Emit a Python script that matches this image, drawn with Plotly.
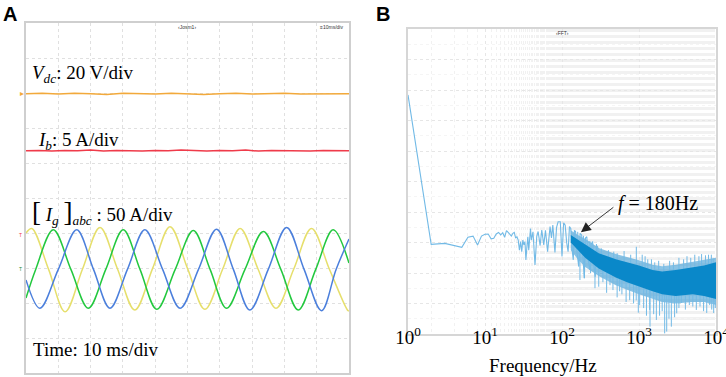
import numpy as np
import plotly.graph_objects as go

W, H = 726, 377

# ---------------- Panel A: oscilloscope (time in ms, vertical in screen divisions) ----------------
vdc_t = [0, 5, 10, 15, 20, 25, 30, 35, 40, 45, 50, 55, 60, 65, 70, 75, 80, 85, 90, 95, 100]
vdc_div = [7.98, 7.99, 7.97, 7.99, 7.98, 7.96, 7.99, 7.98, 7.97, 7.99, 7.97, 7.96, 7.98, 7.99,
           7.97, 7.98, 7.99, 7.97, 7.98, 7.99, 7.98]
ib_t = [0, 4, 8, 12, 16, 20, 24, 28, 32, 36, 40, 44, 48, 52, 56, 60, 64, 68, 72, 76, 80, 84, 88, 92, 96, 100]
ib_div = [6.35, 6.36, 6.34, 6.36, 6.35, 6.37, 6.34, 6.36, 6.35, 6.34, 6.36, 6.35, 6.37, 6.35, 6.34,
          6.36, 6.35, 6.37, 6.34, 6.36, 6.35, 6.36, 6.34, 6.36, 6.35, 6.35]

ia_t = [0, 1.8, 7.0, 12.1, 17.5, 22.9, 28.3, 33.7, 39.2, 44.6, 50.0, 55.4, 60.9, 66.3, 71.8,
        77.4, 82.9, 88.4, 94.0, 99.7, 100]
ia_div = [4.00, 4.13, 2.96, 1.75, 2.97, 4.16, 2.98, 1.80, 2.99, 4.18, 2.99, 1.82, 2.97, 4.13, 2.98,
          1.85, 2.97, 4.13, 2.95, 1.78, 1.78]

ic_t = [0, 3.0, 8.45, 13.9, 19.3, 24.7, 30.1, 35.3, 40.5, 46.2, 51.8, 57.0, 62.1, 67.8, 73.5,
        78.9, 84.3, 89.7, 95.1, 100]
ic_div = [2.14, 2.96, 4.09, 2.96, 1.85, 2.96, 4.09, 2.96, 1.82, 2.96, 4.07, 2.96, 1.85, 2.96, 4.04,
          2.96, 1.80, 2.96, 4.09, 3.14]

ib3_t = [0, 4.3, 10.0, 15.7, 20.9, 26.0, 31.4, 36.8, 42.3, 47.7, 53.4, 59.0, 64.2, 69.3, 75.0,
         80.7, 86.1, 91.5, 96.0, 100]
ib3_div = [2.66, 1.85, 2.96, 4.09, 2.96, 1.85, 2.96, 4.09, 2.96, 1.85, 2.96, 4.11, 2.96, 1.80, 2.96,
           4.16, 2.96, 1.78, 2.96, 3.83]

# ---------------- Panel B: FFT spectrum (frequency in Hz, magnitude in dB) ----------------
lf_freq = [1, 2, 3, 4, 5, 6, 7, 8, 9, 10, 11, 12, 13, 14, 15, 16, 17, 18, 19, 20, 21, 22, 23, 24,
           25, 26, 27, 28, 29, 30, 31, 32, 33, 34, 35, 36, 37, 38, 39, 40, 42, 44.6, 47, 49, 52,
           54.6, 58, 61, 65, 70, 73, 76, 81, 85, 89, 95, 100, 105, 110, 115, 120, 125, 130, 135,
           140, 145, 150, 157, 165, 172, 180, 187, 195, 202, 210, 220, 230, 240, 250, 260, 270,
           280, 290, 300]
lf_db = [-21.6, -70.6, -70.3, -71.1, -71.6, -68.3, -67.9, -70.8, -67.9, -67.3, -67.2, -68.8,
         -68.6, -67.2, -66.7, -67.5, -66.8, -68.3, -66.1, -66.7, -67.2, -67.9, -67.0, -66.7,
         -68.6, -68.1, -69.2, -72.5, -69.7, -73.0, -69.2, -70.8, -69.7, -75.7, -71.4, -68.1,
         -72.5, -67.5, -65.4, -69.2, -66.5, -77.4, -68.0, -66.4, -71.0, -65.9, -70.8, -66.0,
         -73.0, -64.8, -68.5, -64.3, -73.3, -65.0, -63.2, -63.2, -74.6, -63.5, -64.3, -70.0,
         -73.0, -64.8, -65.4, -72.0, -75.7, -66.0, -66.4, -73.5, -77.9, -67.0, -67.5, -75.0,
         -81.7, -68.5, -68.1, -76.0, -79.0, -70.5, -69.7, -78.0, -81.2, -71.0, -71.4, -76.0]

band_freq = [130, 160, 200, 300, 500, 700, 1000, 1500, 2000, 3000, 5000, 7000, 10000]
core_hi = [-67.5, -69.0, -70.5, -73.5, -75.5, -76.5, -77.5, -79.0, -79.5, -79.0, -78.0, -77.5, -76.5]
core_lo = [-70.0, -72.5, -75.0, -78.5, -81.5, -83.0, -84.5, -86.0, -87.0, -87.5, -87.0, -87.5, -88.5]
fringe_hi = [-66.0, -67.5, -68.8, -71.8, -73.8, -74.8, -75.8, -77.3, -77.8, -77.3, -76.3, -75.8, -75.0]
fringe_lo = [-72.5, -75.5, -78.0, -81.0, -84.0, -85.5, -87.0, -88.5, -89.5, -90.0, -89.5, -89.5, -90.5]

dip_freq = [171, 195, 235, 268, 300, 340, 380, 420, 459, 520, 560, 600, 680, 757, 850, 920, 980,
            1020, 1150, 1250, 1377, 1390, 1550, 1680, 1850, 2000, 2155, 2290, 2450, 2630, 2900,
            3090, 3300, 3548, 4000, 4500, 5000, 5550, 6200, 6900, 7580, 8280, 8800, 9330, 9800]
dip_db = [-82.3, -81.7, -80.0, -85.0, -84.5, -83.0, -86.5, -84.0, -85.6, -88.0, -86.0, -87.0,
          -89.5, -88.9, -90.0, -89.0, -93.0, -90.5, -91.5, -94.0, -92.1, -97.6, -93.5, -95.4,
          -94.0, -92.5, -99.8, -99.2, -95.0, -97.6, -94.5, -93.2, -91.5, -89.8, -92.0, -90.5,
          -91.0, -92.1, -91.0, -92.5, -93.1, -90.5, -92.0, -93.1, -91.5]
peak_freq = [160, 190, 230, 280, 324, 400, 470, 520, 640, 780, 923, 1100, 1200, 1300, 1450, 1600,
             1800, 2100, 2500, 2800, 3300, 3800, 4200, 4700, 5300, 6000, 6500, 7300, 8000, 8700, 9200]
peak_db = [-66.5, -67.8, -69.5, -70.5, -71.9, -72.5, -73.0, -73.5, -72.8, -74.0, -71.4, -74.0,
           -74.5, -75.5, -75.5, -76.5, -76.0, -77.0, -76.0, -76.5, -75.0, -75.5, -74.5, -75.0,
           -74.0, -74.5, -73.8, -74.2, -74.0, -74.0, -75.2]

xtick_vals = [1, 10, 100, 1000, 10000]
xtick_text = ["10<sup>0</sup>", "10<sup>1</sup>", "10<sup>2</sup>", "10<sup>3</sup>", "10<sup>4</sup>"]

SERIF = "Liberation Serif, Times New Roman, serif"
SANS = "Liberation Sans, Arial, sans-serif"


def px(x):
    return x / W


def py(y):
    return 1 - y / H


fig = go.Figure()

# Panel A traces
fig.add_trace(go.Scatter(x=vdc_t, y=vdc_div, mode="lines", line=dict(color="#f2a93b", width=1.5),
                         xaxis="x", yaxis="y", hoverinfo="skip"))
fig.add_trace(go.Scatter(x=ib_t, y=ib_div, mode="lines", line=dict(color="#ef3b4a", width=1.5),
                         xaxis="x", yaxis="y", hoverinfo="skip"))
fig.add_trace(go.Scatter(x=ia_t, y=ia_div, mode="lines", line=dict(color="#e6df6c", width=1.5, shape="spline"),
                         xaxis="x", yaxis="y", hoverinfo="skip"))
fig.add_trace(go.Scatter(x=ic_t, y=ic_div, mode="lines", line=dict(color="#22c83e", width=1.5, shape="spline"),
                         xaxis="x", yaxis="y", hoverinfo="skip"))
fig.add_trace(go.Scatter(x=ib3_t, y=ib3_div, mode="lines", line=dict(color="#4b7fdc", width=1.5, shape="spline"),
                         xaxis="x", yaxis="y", hoverinfo="skip"))

# Panel B traces
LIGHT = "#72bae6"
CORE = "#0a88c9"
fig.add_trace(go.Scatter(x=band_freq + band_freq[::-1], y=fringe_hi + fringe_lo[::-1], mode="lines",
                         fill="toself", fillcolor="rgba(60,155,212,0.6)", line=dict(width=0),
                         xaxis="x2", yaxis="y2", hoverinfo="skip"))

lb = np.log10(band_freq)
mid = (np.array(core_hi) + np.array(core_lo)) / 2
sx, sy = [], []
for f, d in list(zip(dip_freq, dip_db)) + list(zip(peak_freq, peak_db)):
    sx += [f, f, None]
    sy += [float(np.interp(np.log10(f), lb, mid)), d, None]
fig.add_trace(go.Scatter(x=sx, y=sy, mode="lines", line=dict(color=LIGHT, width=1),
                         xaxis="x2", yaxis="y2", hoverinfo="skip"))
fig.add_trace(go.Scatter(x=lf_freq, y=lf_db, mode="lines", line=dict(color=LIGHT, width=1.1),
                         xaxis="x2", yaxis="y2", hoverinfo="skip"))
fig.add_trace(go.Scatter(x=band_freq + band_freq[::-1], y=core_hi + core_lo[::-1], mode="lines",
                         fill="toself", fillcolor=CORE, line=dict(width=0),
                         xaxis="x2", yaxis="y2", hoverinfo="skip"))

annotations = [
    dict(text="<b>A</b>", x=px(1), y=py(1), xref="paper", yref="paper", xanchor="left", yanchor="top",
         showarrow=False, font=dict(family=SANS, size=20, color="black")),
    dict(text="<b>B</b>", x=px(374), y=py(1), xref="paper", yref="paper", xanchor="left", yanchor="top",
         showarrow=False, font=dict(family=SANS, size=20, color="black")),
    dict(text="<i>V</i><sub><i>dc</i></sub>: 20 V/div", x=px(30), y=py(74), xref="paper", yref="paper",
         xanchor="left", yanchor="middle", showarrow=False, font=dict(family=SERIF, size=19, color="black")),
    dict(text="<i>I</i><sub><i>b</i></sub>: 5 A/div", x=px(36), y=py(141), xref="paper", yref="paper",
         xanchor="left", yanchor="middle", showarrow=False, font=dict(family=SERIF, size=19, color="black")),
    dict(text="<span style='font-size:27px'>[</span>&nbsp;<i>I</i><sub><i>g</i></sub>&nbsp;"
              "<span style='font-size:27px'>]</span><sub><i>abc</i></sub>&nbsp;: 50 A/div",
         x=px(30), y=py(212), xref="paper", yref="paper",
         xanchor="left", yanchor="middle", showarrow=False, font=dict(family=SERIF, size=19, color="black")),
    dict(text="Time: 10 ms/div", x=px(31), y=py(349), xref="paper", yref="paper",
         xanchor="left", yanchor="middle", showarrow=False, font=dict(family=SERIF, size=19, color="black")),
    dict(text="‹Josm1›", x=px(187), y=py(27), xref="paper", yref="paper", xanchor="center", yanchor="middle",
         showarrow=False, font=dict(family=SANS, size=5, color="#333")),
    dict(text="≡10ms/div", x=px(345), y=py(27), xref="paper", yref="paper", xanchor="right", yanchor="middle",
         showarrow=False, font=dict(family=SANS, size=5, color="#333")),
    dict(text="‹FFT›", x=px(562), y=py(33), xref="paper", yref="paper", xanchor="center", yanchor="middle",
         showarrow=False, font=dict(family=SANS, size=5, color="#333")),
    dict(text="▸", x=px(22), y=py(93), xref="paper", yref="paper", xanchor="center", yanchor="middle",
         showarrow=False, font=dict(family=SANS, size=8, color="#f2a93b")),
    dict(text="T", x=px(20), y=py(235), xref="paper", yref="paper", xanchor="center", yanchor="middle",
         showarrow=False, font=dict(family=SANS, size=5, color="#ef3b4a")),
    dict(text="T", x=px(20), y=py(269), xref="paper", yref="paper", xanchor="center", yanchor="middle",
         showarrow=False, font=dict(family=SANS, size=5, color="#2a8a3a")),
    dict(text="<i>f</i> = 180Hz", x=px(616), y=py(203), xref="paper", yref="paper", xanchor="left",
         yanchor="middle", showarrow=False, font=dict(family=SERIF, size=20, color="black")),
    dict(text="", x=np.log10(176), y=-66.6, xref="x2", yref="y2", showarrow=True, ax=34, ay=-26,
         axref="pixel", ayref="pixel", arrowhead=2, arrowsize=2.2, arrowwidth=0.9, arrowcolor="#222"),
    dict(text="Frequency/Hz", x=px(543), y=py(365), xref="paper", yref="paper", xanchor="center",
         yanchor="middle", showarrow=False, font=dict(family=SERIF, size=19, color="black")),
]

common = dict(automargin=False, zeroline=False, ticks="", fixedrange=True, showline=True, mirror=True)

fig.update_layout(
    width=W, height=H, margin=dict(l=0, r=0, t=0, b=0, pad=0, autoexpand=False),
    paper_bgcolor="white", plot_bgcolor="white", showlegend=False,
    annotations=annotations,
    xaxis=dict(domain=[px(26), px(349)], range=[0, 100], dtick=10, showgrid=True, gridcolor="#e0e0e0",
               griddash="dot", gridwidth=1, showticklabels=False,
               linecolor="#cfcfcf", linewidth=1.5, anchor="y", **common),
    yaxis=dict(domain=[py(373), py(23)], range=[0, 10], dtick=1, showgrid=True, gridcolor="#e0e0e0",
               griddash="dot", gridwidth=1, showticklabels=False,
               linecolor="#cfcfcf", linewidth=1.5, anchor="x", **common),
    xaxis2=dict(domain=[px(408), px(716)], type="log", range=[0, 4], tickvals=xtick_vals,
                ticktext=xtick_text, tickfont=dict(family=SERIF, size=19, color="black"),
                ticklabelstandoff=-15, ticklabeloverflow="allow",
                showgrid=True, gridcolor="#e6e6e6", griddash="dot",
                minor=dict(showgrid=True, gridcolor="#f1f1f1", griddash="dot", ticks=""),
                linecolor="#d6d6d6", linewidth=1.5, anchor="y2", **common),
    yaxis2=dict(domain=[py(334), py(29)], range=[-100, 0], dtick=10, showticklabels=False,
                showgrid=True, gridcolor="#e6e6e6", griddash="dot",
                minor=dict(showgrid=True, gridcolor="#f5f5f5", griddash="dot", dtick=5, ticks=""),
                linecolor="#d6d6d6", linewidth=1.5, anchor="x2", **common),
)

fig.write_html("out.html", config={"displayModeBar": False},
               post_script="document.body.style.margin='0px';document.body.style.overflow='hidden';")
